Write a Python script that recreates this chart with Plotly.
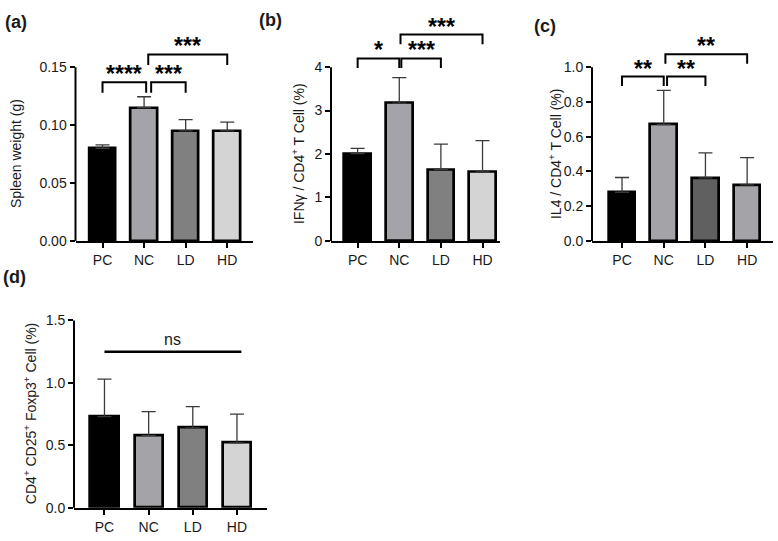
import plotly.graph_objects as go

# ---------------- data ----------------
groups = ["PC", "NC", "LD", "HD"]

spleen_mean = [0.080, 0.115, 0.095, 0.095]
spleen_sd = [0.003, 0.0095, 0.0098, 0.0075]

ifng_mean = [2.01, 3.17, 1.64, 1.59]
ifng_sd = [0.12, 0.59, 0.59, 0.72]

il4_mean = [0.280, 0.670, 0.363, 0.322]
il4_sd = [0.085, 0.196, 0.144, 0.157]

treg_mean = [0.73, 0.58, 0.64, 0.52]
treg_sd = [0.30, 0.19, 0.17, 0.23]

spleen_ticks = [0, 0.05, 0.10, 0.15]
ifng_ticks = [0, 1, 2, 3, 4]
il4_ticks = [0, 0.2, 0.4, 0.6, 0.8, 1.0]
treg_ticks = [0, 0.5, 1.0, 1.5]

# significance: (start position, end position, bracket height, label)
spleen_sig = [(0, 1.05, 0.137, "****"), (1.17, 2, 0.137, "***"), (1.1, 3, 0.161, "***")]
ifng_sig = [(0, 1.0, 4.2, "*"), (1.05, 2, 4.2, "***"), (1.03, 3, 4.75, "***")]
il4_sig = [(0, 1.0, 0.946, "**"), (1.08, 2, 0.946, "**"), (1.04, 3, 1.074, "**")]
treg_sig = [(0, 3.1, 1.25, "ns")]

colors_std = ["#000000", "#a4a4a8", "#808080", "#d4d4d4"]
colors_c = ["#000000", "#a4a4a8", "#606060", "#a4a4a8"]

FONT = "Liberation Sans, Arial, sans-serif"
W, H = 778, 541

panels = [
    dict(mean=spleen_mean, sd=spleen_sd, ticks=spleen_ticks, fmt=".2f", sig=spleen_sig,
         colors=colors_std, title="Spleen weight (g)", label="(a)",
         px_x=(75.5, 253), px_y=(240, 30), ymax=0.176, xr=(-0.65, 3.62), drop=0.009,
         title_x=16, label_xy=(3, 14.5)),
    dict(mean=ifng_mean, sd=ifng_sd, ticks=ifng_ticks, fmt=".0f", sig=ifng_sig,
         colors=colors_std, title="IFNγ / CD4<sup>+</sup> T Cell (%)", label="(b)",
         px_x=(331, 500), px_y=(240, 5), ymax=5.25, xr=(-0.64, 3.42), drop=0.22,
         title_x=298, label_xy=(257, 12.5)),
    dict(mean=il4_mean, sd=il4_sd, ticks=il4_ticks, fmt=".1f", sig=il4_sig,
         colors=colors_c, title="IL4 / CD4<sup>+</sup> T Cell (%)", label="(c)",
         px_x=(592, 773), px_y=(240, 28), ymax=1.184, xr=(-0.72, 3.62), drop=0.054,
         title_x=555, label_xy=(532, 19)),
    dict(mean=treg_mean, sd=treg_sd, ticks=treg_ticks, fmt=".1f", sig=treg_sig,
         colors=colors_std, title="CD4<sup>+</sup> CD25<sup>+</sup> Foxp3<sup>+</sup> Cell (%)",
         label="(d)", px_x=(74, 267), px_y=(515, 322), ymax=1.5, xr=(-0.69, 3.68), drop=0,
         title_x=30, label_xy=(1, 277.5)),
]

fig = go.Figure()
shapes = []
annotations = []
xpos = list(range(len(groups)))

for i, p in enumerate(panels):
    n = "" if i == 0 else str(i + 1)
    xa, ya = "x" + n, "y" + n
    fig.add_trace(go.Bar(
        x=xpos, y=p["mean"], xaxis=xa, yaxis=ya, width=0.64,
        marker=dict(color=p["colors"], line=dict(color="#000000", width=2.7)),
        error_y=dict(type="data", array=p["sd"], arrayminus=[0] * len(groups), symmetric=False,
                     color="#3a3a3a", thickness=1.3, width=7),
        showlegend=False, hoverinfo="skip",
    ))
    top = p["ticks"][-1]
    fig.update_layout(**{
        "xaxis" + n: dict(
            domain=[p["px_x"][0] / W, p["px_x"][1] / W], anchor=ya, range=list(p["xr"]),
            tickvals=xpos, ticktext=groups, ticks="outside", ticklen=5, tickwidth=2,
            tickcolor="#000", showline=True, linewidth=2, linecolor="#000",
            showgrid=False, zeroline=False,
            tickfont=dict(family=FONT, size=14, color="#1a1a1a"),
        ),
        "yaxis" + n: dict(
            domain=[1 - p["px_y"][0] / H, 1 - p["px_y"][1] / H], anchor=xa,
            range=[0, p["ymax"]], tickvals=p["ticks"], tickformat=p["fmt"],
            ticks="outside", ticklen=5, tickwidth=2, tickcolor="#000",
            showline=False, showgrid=False, zeroline=False,
            tickfont=dict(family=FONT, size=14, color="#1a1a1a"),
        ),
    })
    # y axis line only up to the top tick
    shapes.append(dict(type="line", xref=xa + " domain", yref=ya + " domain",
                       x0=0, x1=0, y0=0, y1=top / p["ymax"],
                       line=dict(color="#000", width=2)))
    # significance brackets
    for (s, e, h, lab) in p["sig"]:
        if p["drop"] > 0:
            path = f"M {s},{h - p['drop']} L {s},{h} L {e},{h} L {e},{h - p['drop']}"
            shapes.append(dict(type="path", xref=xa, yref=ya, path=path,
                               line=dict(color="#000", width=2)))
            annotations.append(dict(x=(s + e) / 2, y=h, xref=xa, yref=ya, text="<b>" + lab + "</b>",
                                    showarrow=False, yanchor="middle", yshift=8,
                                    font=dict(family=FONT, size=23, color="#000")))
        else:
            shapes.append(dict(type="line", xref=xa, yref=ya, x0=s, x1=e, y0=h, y1=h,
                               line=dict(color="#000", width=2.5)))
            annotations.append(dict(x=(s + e) / 2, y=h, xref=xa, yref=ya, text=lab,
                                    showarrow=False, yanchor="bottom", yshift=2,
                                    font=dict(family=FONT, size=16, color="#1a1a1a")))
    # y axis title
    annotations.append(dict(x=p["title_x"] / W, xref="paper", y=top / 2, yref=ya,
                            text=p["title"], textangle=-90, showarrow=False,
                            xanchor="center", yanchor="middle",
                            font=dict(family=FONT, size=14, color="#1a1a1a")))
    # panel label
    annotations.append(dict(x=p["label_xy"][0] / W, y=1 - p["label_xy"][1] / H,
                            xref="paper", yref="paper", text="<b>" + p["label"] + "</b>",
                            showarrow=False, xanchor="left", yanchor="middle",
                            font=dict(family=FONT, size=18, color="#1a1a1a")))

fig.update_layout(
    width=W, height=H, margin=dict(l=0, r=0, t=0, b=0),
    paper_bgcolor="white", plot_bgcolor="white",
    shapes=shapes, annotations=annotations, showlegend=False, bargap=0,
)

fig.write_html("out.html", config={"displayModeBar": False},
               post_script="document.body.style.margin='0';")
